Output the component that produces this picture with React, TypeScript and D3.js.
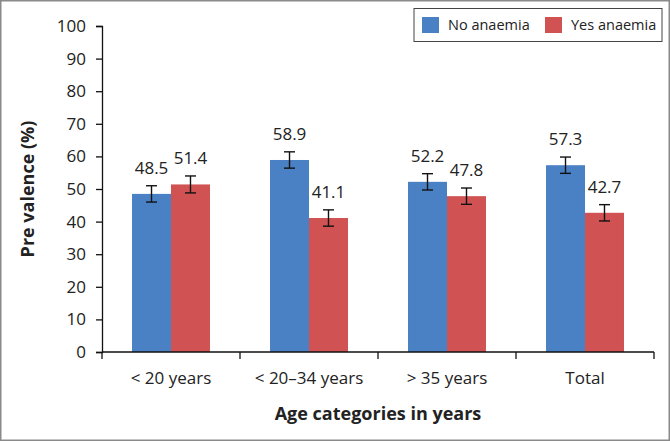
import * as React from "react";
import * as d3 from "d3";

const categories = ["< 20 years", "< 20\u201334 years", "> 35 years", "Total"];
const seriesNames = ["No anaemia", "Yes anaemia"];
const noAnaemia = [48.5, 58.9, 52.2, 57.3];
const yesAnaemia = [51.4, 41.1, 47.8, 42.7];
const noErr = [2.5, 2.5, 2.5, 2.5];
const yesErr = [2.6, 2.5, 2.5, 2.5];
const yTicks = [0, 10, 20, 30, 40, 50, 60, 70, 80, 90, 100];
const colors = ["#4a81c4", "#d05252"];

const W = 670;
const H = 441;
const FONT = "'Open Sans', 'DejaVu Sans', sans-serif";

export default function App() {
    const ref = React.useRef<SVGSVGElement>(null);

    React.useEffect(() => {
        const svg = d3.select(ref.current);
        svg.selectAll("*").remove();

        const left = 102, right = 654, top = 26, bottom = 352;

        const x = d3.scaleBand().domain(categories).range([left, right]).paddingInner(0).paddingOuter(0);
        const xInner = d3.scaleBand().domain(seriesNames).range([0, x.bandwidth()]).paddingOuter(0.77).paddingInner(0);
        const y = d3.scaleLinear().domain([0, 100]).range([bottom, top]);

        // frame
        svg.append("rect")
            .attr("x", 0.75).attr("y", 0.75)
            .attr("width", W - 1.5).attr("height", H - 1.5)
            .attr("fill", "white").attr("stroke", "#8a8a8a").attr("stroke-width", 1.5);

        const series = [
            { name: seriesNames[0], values: noAnaemia, err: noErr, color: colors[0] },
            { name: seriesNames[1], values: yesAnaemia, err: yesErr, color: colors[1] },
        ];

        series.forEach(s => {
            const g = svg.append("g");
            categories.forEach((c, i) => {
                const bx = (x(c) as number) + (xInner(s.name) as number);
                const bw = xInner.bandwidth();
                const v = s.values[i];
                g.append("rect")
                    .attr("x", bx).attr("y", y(v))
                    .attr("width", bw).attr("height", y(0) - y(v))
                    .attr("fill", s.color);
                const cx = bx + bw / 2;
                const e = s.err[i];
                g.append("line")
                    .attr("x1", cx).attr("x2", cx)
                    .attr("y1", y(v + e)).attr("y2", y(v - e))
                    .attr("stroke", "#111").attr("stroke-width", 1.4);
                [v + e, v - e].forEach(ev => {
                    g.append("line")
                        .attr("x1", cx - 5.5).attr("x2", cx + 5.5)
                        .attr("y1", y(ev)).attr("y2", y(ev))
                        .attr("stroke", "#111").attr("stroke-width", 1.4);
                });
                g.append("text")
                    .attr("x", cx).attr("y", y(v + e) - 12)
                    .attr("text-anchor", "middle")
                    .style("font-family", FONT).style("font-size", "17px")
                    .attr("fill", "#222")
                    .text(v.toFixed(1));
            });
        });

        // y axis
        const yAxis = svg.append("g")
            .attr("transform", "translate(" + left + ",0)")
            .call(d3.axisLeft(y).tickValues(yTicks).tickSize(6).tickPadding(10));
        yAxis.select(".domain").attr("stroke", "#111").attr("stroke-width", 1.3);
        yAxis.selectAll(".tick line").attr("stroke", "#111").attr("stroke-width", 1.3);
        yAxis.selectAll(".tick text")
            .style("font-family", FONT).style("font-size", "17px").attr("fill", "#222");

        // x axis
        const xAxis = svg.append("g")
            .attr("transform", "translate(0," + bottom + ")")
            .call(d3.axisBottom(x).tickSize(0).tickPadding(20));
        xAxis.select(".domain").remove();
        xAxis.selectAll(".tick text")
            .style("font-family", FONT).style("font-size", "17px").attr("fill", "#222");
        svg.append("line")
            .attr("x1", left).attr("x2", right).attr("y1", bottom).attr("y2", bottom)
            .attr("stroke", "#111").attr("stroke-width", 1.3);
        const edges = categories.map(c => x(c) as number).concat([right]);
        svg.selectAll(".xedge").data(edges).enter().append("line")
            .attr("x1", d => d).attr("x2", d => d)
            .attr("y1", bottom).attr("y2", bottom + 7)
            .attr("stroke", "#111").attr("stroke-width", 1.3);

        // axis titles
        svg.append("text")
            .attr("transform", "translate(34," + ((top + bottom) / 2) + ") rotate(-90)")
            .attr("text-anchor", "middle")
            .style("font-family", FONT).style("font-size", "18px").style("font-weight", "bold")
            .attr("fill", "#222")
            .text("Pre valence (%)");
        svg.append("text")
            .attr("x", (left + right) / 2).attr("y", 420)
            .attr("text-anchor", "middle")
            .style("font-family", FONT).style("font-size", "18px").style("font-weight", "bold")
            .attr("fill", "#222")
            .text("Age categories in years");

        // legend
        const legend = svg.append("g");
        legend.append("rect")
            .attr("x", 414).attr("y", 8.5).attr("width", 248).attr("height", 33)
            .attr("fill", "white").attr("stroke", "#444").attr("stroke-width", 1);
        const legendX = [422, 545];
        series.forEach((s, i) => {
            legend.append("rect")
                .attr("x", legendX[i]).attr("y", 17).attr("width", 17).attr("height", 16)
                .attr("fill", s.color);
            legend.append("text")
                .attr("x", legendX[i] + 26).attr("y", 30)
                .style("font-family", FONT).style("font-size", "14.5px")
                .attr("fill", "#222")
                .text(s.name);
        });
    }, []);

    return (
        <svg ref={ref} width={W} height={H}
             style={{ position: "absolute", left: 0, top: 0, background: "white" }} />
    );
}
